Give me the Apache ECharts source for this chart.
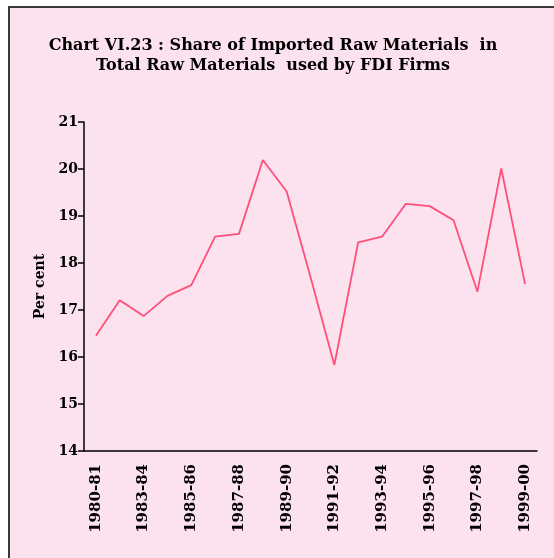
<!DOCTYPE html>
<html>
<head>
<meta charset="utf-8">
<script src="https://cdn.jsdelivr.net/npm/echarts@6/dist/echarts.min.js"></script>
<style>
  html, body { margin: 0; padding: 0; background: #fff; }
  #chart { width: 554px; height: 558px; }
</style>
</head>
<body>
<div id="chart"></div>
<script>
// Year labels (one year is missing between 1980-81 and 1983-84 in the source)
const years = [
    '1980-81', '1982-83', '1983-84', '1984-85', '1985-86', '1986-87', '1987-88',
    '1988-89', '1989-90', '1990-91', '1991-92', '1992-93', '1993-94', '1994-95',
    '1995-96', '1996-97', '1997-98', '1998-99', '1999-00'
];
// Share of imported raw materials, per cent
const shareValues = [
    16.45, 17.21, 16.87, 17.30, 17.53, 18.56, 18.62, 20.19, 19.52, 17.70,
    15.83, 18.44, 18.56, 19.26, 19.21, 18.91, 17.39, 20.01, 17.55
];
const titleLines = [
    'Chart VI.23 : Share of Imported Raw Materials  in',
    'Total Raw Materials  used by FDI Firms'
];

(function() {
    const chart = echarts.init(document.getElementById('chart'), null, { renderer: 'canvas' });
    const boldFont = '"DejaVu Serif", serif';

    const option = {
        backgroundColor: '#ffffff',
        animation: false,
        graphic: [
            {
                type: 'rect',
                z: -10,
                shape: { x: 9, y: 7, width: 570, height: 580 },
                style: { fill: '#fce2ee', stroke: '#3a3a3a', lineWidth: 2 }
            }
        ],
        title: {
            text: titleLines.join('\n'),
            left: 268,
            top: 31,
            textAlign: 'center',
            textStyle: {
                fontFamily: boldFont,
                fontWeight: 'bold',
                fontSize: 16,
                lineHeight: 20,
                color: '#000'
            }
        },
        grid: { left: 84, right: 17, top: 122, bottom: 107 },
        xAxis: {
            type: 'category',
            data: years,
            boundaryGap: true,
            axisLine: { lineStyle: { color: '#000', width: 1.5 } },
            axisTick: { interval: 0, length: 6, lineStyle: { color: '#000', width: 1.5 } },
            axisLabel: {
                interval: 1,
                rotate: 90,
                margin: 13,
                color: '#000',
                fontFamily: boldFont,
                fontWeight: 'bold',
                fontSize: 15
            },
            splitLine: { show: false }
        },
        yAxis: {
            type: 'value',
            min: 14,
            max: 21,
            interval: 1,
            name: 'Per cent',
            nameLocation: 'middle',
            nameGap: 35,
            nameRotate: 90,
            nameTextStyle: {
                color: '#000',
                fontFamily: boldFont,
                fontWeight: 'bold',
                fontSize: 14
            },
            axisLine: { show: true, lineStyle: { color: '#000', width: 1.5 } },
            axisTick: { show: true, inside: false, length: 6, lineStyle: { color: '#000', width: 1.5 } },
            axisLabel: {
                margin: 6,
                color: '#000',
                fontFamily: boldFont,
                fontWeight: 'bold',
                fontSize: 14
            },
            splitLine: { show: false }
        },
        series: [
            {
                name: 'Share',
                type: 'line',
                data: shareValues,
                symbol: 'none',
                lineStyle: { color: '#ff4f7b', width: 1.8 }
            }
        ]
    };

    chart.setOption(option);
})();
</script>
</body>
</html>
